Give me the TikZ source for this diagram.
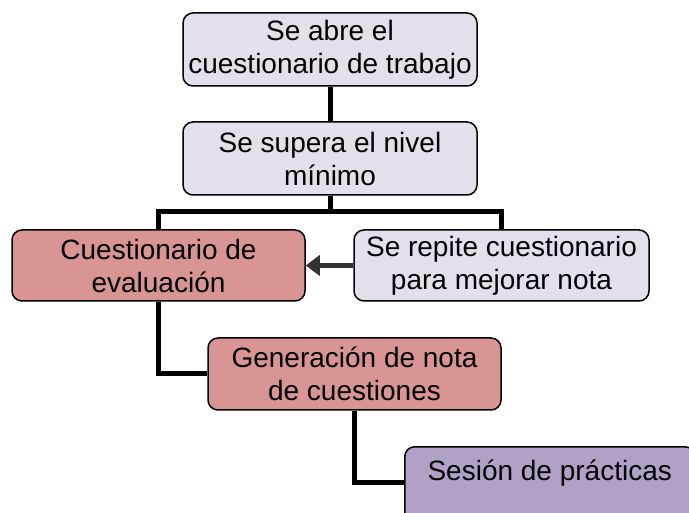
\documentclass[tikz,border=0pt]{standalone}
\usepackage{fontspec}
\setmainfont{Liberation Sans}
\usetikzlibrary{arrows.meta}
\definecolor{lav}{HTML}{E5DFEC}
\definecolor{rosa}{HTML}{D99594}
\definecolor{morado}{HTML}{B2A1C7}
\definecolor{flecha}{HTML}{333333}
\tikzset{
  caja/.style={draw=black, line width=1.5pt, rounded corners=10pt, align=center,
    font=\fontsize{28}{33}\selectfont, inner sep=0pt, text=black},
  conector/.style={line width=5pt, draw=black},
}
\begin{document}
\begin{tikzpicture}[x=1pt,y=-1pt]
\clip (0,0) rectangle (689,513);
\fill[white] (0,0) rectangle (689,513);
\node[caja, fill=lav, minimum width=294pt, minimum height=73pt] (b1) at (330,49.5) {Se abre el\\cuestionario de trabajo};
\node[caja, fill=lav, minimum width=294pt, minimum height=73pt] (b2) at (330,158.5) {Se supera el nivel\\mínimo};
\node[caja, fill=rosa, minimum width=293pt, minimum height=71pt] (b3) at (158.5,265.5) {Cuestionario de\\evaluación};
\node[caja, fill=lav, minimum width=295pt, minimum height=71pt] (b4) at (501.5,265.5) {Se repite cuestionario\\para mejorar nota};
\node[caja, fill=rosa, minimum width=293pt, minimum height=72pt] (b5) at (354.5,374) {Generación de nota\\de cuestiones};
\node[caja, fill=morado, minimum width=290pt, text height=34pt, text depth=54pt, anchor=north west] (b6) at (404,446) {Sesión de prácticas};
\coordinate (j) at (330,212);
\draw[conector] (b1.south) -- (b2.north);
\draw[conector] (b2.south) -- (j);
\draw[conector] (b3.north) |- (j) -| (b4.north);
\draw[conector] (b3.south) |- (b5.west);
\draw[conector] (b5.south) |- ([yshift=8pt]b6.west);
\draw[line width=5pt, draw=flecha, -{Triangle[length=14pt,width=20pt]}] (b4.west) -- (b3.east);
\end{tikzpicture}
\end{document}
